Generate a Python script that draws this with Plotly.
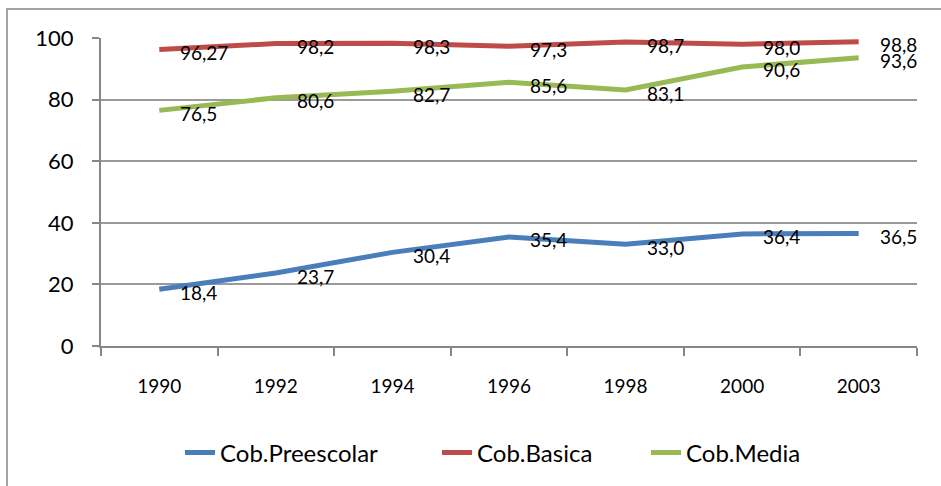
import plotly.graph_objects as go

years = ["1990", "1992", "1994", "1996", "1998", "2000", "2003"]
preescolar = [18.4, 23.7, 30.4, 35.4, 33.0, 36.4, 36.5]
basica = [96.27, 98.2, 98.3, 97.3, 98.7, 98.0, 98.8]
media = [76.5, 80.6, 82.7, 85.6, 83.1, 90.6, 93.6]
y_ticks = [0, 20, 40, 60, 80, 100]

series = [
    ("Cob.Preescolar", preescolar, "#4A7EBB", "legend", 0.0968),
    ("Cob.Basica", basica, "#BE4B48", "legend2", 0.4118),
    ("Cob.Media", media, "#98B954", "legend3", 0.6679),
]

FONT = "Lato"

fig = go.Figure()
annotations = []
legends = {}
for name, values, color, leg, leg_x in series:
    fig.add_trace(go.Scatter(
        x=years, y=values, name=name, mode="lines",
        line=dict(color=color, width=5), legend=leg,
    ))
    legends[leg] = dict(
        orientation="h", x=leg_x, xanchor="left", y=-0.343, yanchor="middle",
        font=dict(family=FONT, size=24, color="#000000"),
        bgcolor="rgba(0,0,0,0)",
    )
    # value labels sit just right of each point (category index on the x axis)
    for i, v in enumerate(values):
        annotations.append(dict(
            x=i, y=v, xref="x", yref="y",
            text=str(v).replace(".", ","),
            showarrow=False, xanchor="left", yanchor="middle",
            xshift=19, yshift=-3,
            font=dict(family=FONT, size=19, color="#000000"),
        ))

fig.update_layout(
    width=941, height=486,
    margin=dict(l=101, r=24, t=38, b=139),
    paper_bgcolor="white", plot_bgcolor="white",
    annotations=annotations,
    showlegend=True,
    shapes=[dict(
        type="rect", xref="paper", yref="paper",
        x0=(7 - 101) / 816, x1=1.2, y0=-0.6, y1=(347 - 9) / 309,
        line=dict(color="#868686", width=1.5), fillcolor="rgba(0,0,0,0)",
        layer="below",
    )],
    **legends,
)

fig.update_xaxes(
    type="category", range=[-0.5, 6.5], tickson="boundaries", ticks="outside", ticklen=8,
    tickcolor="#868686", tickwidth=2,
    showline=True, linecolor="#868686", linewidth=2,
    showgrid=False, ticklabelstandoff=22, tickangle=0,
    tickfont=dict(family=FONT, size=19, color="#000000"),
)
fig.update_yaxes(
    range=[0, 100], tickvals=y_ticks, ticks="outside", ticklen=7,
    tickcolor="#868686", tickwidth=2,
    showline=True, linecolor="#868686", linewidth=2,
    showgrid=True, gridcolor="#9A9A9A", gridwidth=1.5,
    zeroline=False, ticklabelstandoff=14,
    tickfont=dict(family=FONT, size=22, color="#000000"),
)

fig.write_html("out.html")
